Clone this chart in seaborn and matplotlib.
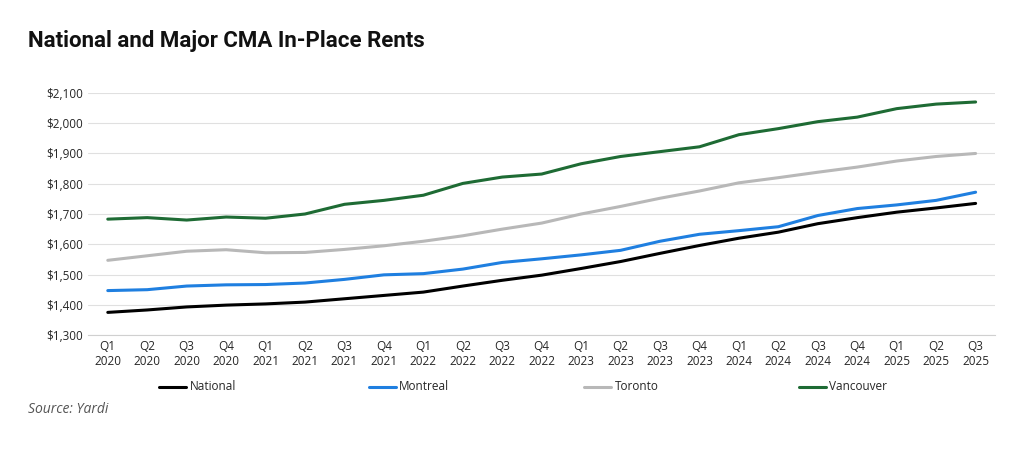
import matplotlib
matplotlib.use("Agg")
import matplotlib.pyplot as plt
import seaborn as sns
import pandas as pd
from matplotlib.ticker import FuncFormatter

quarters = [f"Q{q}\n{y}" for y in range(2020, 2026) for q in range(1, 5)][:23]
national = [1375,1383,1393,1399,1403,1409,1420,1431,1442,1462,1481,1498,1520,1543,1570,1596,1620,1640,1668,1688,1706,1720,1735]
montreal = [1447,1450,1462,1466,1467,1472,1484,1499,1503,1518,1540,1552,1565,1580,1610,1633,1645,1658,1695,1718,1730,1745,1772]
toronto = [1547,1562,1577,1582,1572,1573,1583,1595,1610,1628,1650,1670,1700,1725,1752,1776,1803,1820,1838,1855,1875,1890,1900]
vancouver = [1683,1688,1680,1690,1686,1700,1732,1745,1762,1801,1822,1832,1866,1890,1906,1922,1962,1982,2005,2020,2048,2063,2070]
series = {"National": national, "Montreal": montreal, "Toronto": toronto, "Vancouver": vancouver}
colors = {"National": "#000000", "Montreal": "#1f7fe0", "Toronto": "#b8b8b8", "Vancouver": "#1e6b34"}

rows = []
for name, vals in series.items():
    for i, v in enumerate(vals):
        rows.append({"idx": i, "value": v, "series": name})
df = pd.DataFrame(rows)

sns.set_style("white")
plt.rcParams['font.family'] = ['Open Sans', 'DejaVu Sans']
fig = plt.figure(figsize=(10.24, 4.51), dpi=100)
ax = fig.add_axes([0.086, 0.257, 0.886, 0.537])
sns.lineplot(data=df, x="idx", y="value", hue="series", palette=colors, linewidth=2.2, ax=ax, legend=False)
ax.set_ylim(1300, 2100)
ax.set_yticks(range(1300, 2101, 100))
ax.yaxis.set_major_formatter(FuncFormatter(lambda v, p: f"${v:,.0f}"))
ax.set_xlim(-0.5, 22.5)
ax.set_xticks(range(23))
ax.set_xticklabels(quarters, fontsize=8.5)
ax.tick_params(axis='y', labelsize=8.5, length=0)
ax.tick_params(axis='x', length=0)
ax.grid(axis='y', color='#e0e0e0', linewidth=0.8)
for s in ["top", "right", "left"]:
    ax.spines[s].set_visible(False)
ax.spines["bottom"].set_color('#d0d0d0')
ax.set_xlabel(""); ax.set_ylabel("")

xs = [0.155, 0.36, 0.57, 0.78]
for x, name in zip(xs, series):
    fig.add_artist(plt.Line2D([x, x + 0.027], [0.142, 0.142], color=colors[name], linewidth=2.2))
    fig.text(x + 0.03, 0.142, name, fontsize=8.5, va='center')

fig.text(0.027, 0.895, "National and Major CMA In-Place Rents", fontsize=16, fontweight='bold',
         family=['Roboto', 'DejaVu Sans'], color='#111111', stretch='condensed')
fig.text(0.027, 0.085, "Source: Yardi", fontsize=10, style='italic', color='#555555')
fig.savefig("out.png", dpi=100, facecolor='white')
